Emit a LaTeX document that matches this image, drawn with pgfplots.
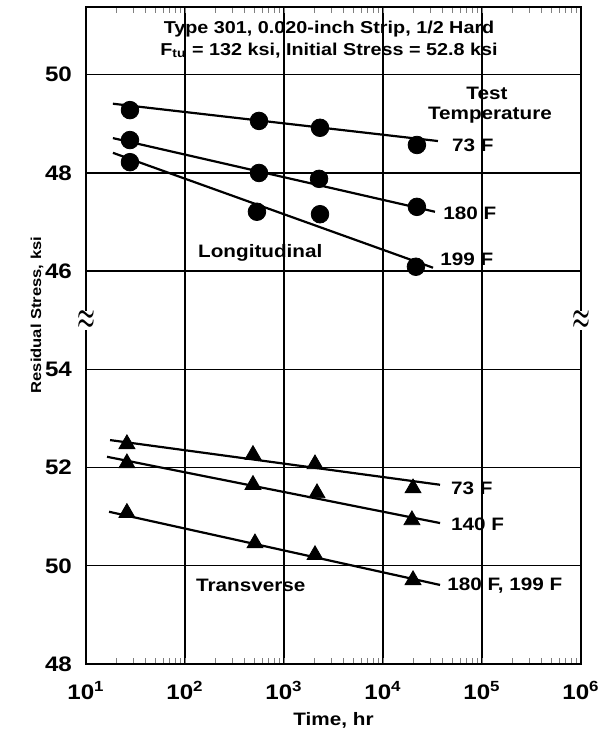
\documentclass[border=0pt]{standalone}
\usepackage{fontspec}
\setmainfont{Liberation Sans}[FakeStretch=1.15]
\usepackage{pgfplots}
\pgfplotsset{compat=1.18}

% upper panel (46-50 ksi) is shifted up by 10 units onto the same axis
\pgfplotsset{
  upper/.style={y filter/.expression={y+10}},
  fitline/.style={black, line width=1.1pt, no markers},
  circ/.style={only marks, mark=*, mark size=4.4pt, black},
  tri/.style={only marks, mark=triangle*, mark size=4.6pt, black},
}
\tikzset{
  lbl/.style={font=\fontsize{9}{10}\selectfont\bfseries, inner sep=0pt},
  brk/.style={font={\fontsize{10}{10}\selectfont\boldmath}, inner sep=0pt, fill=white},
}

\begin{document}
\begin{tikzpicture}
\begin{axis}[
  scale only axis, width=247.5pt, height=328.5pt,
  xmode=log, xmin=10, xmax=1e6,
  ymin=48, ymax=61.38,
  xtick={10,100,1000,10000,100000,1000000},
  xticklabels={10\textsuperscript{1},10\textsuperscript{2},10\textsuperscript{3},
               10\textsuperscript{4},10\textsuperscript{5},10\textsuperscript{6}},
  ytick={48,50,52,54,56,58,60},
  yticklabels={48,50,52,54,46,48,50},
  minor xtick={},
  grid=major,
  major grid style={black, line width=0.7pt},
  axis line style={line width=1.3pt},
  major tick length=0pt,
  tick label style={font=\fontsize{10.5}{12}\selectfont\bfseries},
  yticklabel style={xshift=-3.5pt},
  xticklabel style={yshift=-5pt},
  xlabel={Time, hr},
  ylabel={Residual Stress, ksi},
  xlabel style={at={(axis description cs:0.5,0)}, anchor=center, yshift=-28pt,
                font=\fontsize{9}{10}\selectfont\bfseries},
  ylabel style={at={(axis description cs:-0.099,0.531)}, anchor=center,
                font=\fontsize{7.2}{8}\selectfont\bfseries},
  clip=false,
]

% ---- Longitudinal (upper panel)
\addplot[fitline, upper] coordinates {(18.7,49.41) (35900,48.65)};
\addplot[circ, upper] coordinates {(27.8,49.28) (559,49.06) (2310,48.92) (22000,48.57)};

\addplot[fitline, upper] coordinates {(18.7,48.71) (33500,47.21)};
\addplot[circ, upper] coordinates {(27.8,48.67) (559,48.00) (2260,47.88) (22000,47.31)};

\addplot[fitline, upper] coordinates {(18.7,48.41) (32000,46.07)};
\addplot[circ, upper] coordinates {(27.8,48.22) (533,47.21) (2310,47.16) (21500,46.09)};

% ---- Transverse (lower panel)
\addplot[fitline] coordinates {(17.5,52.56) (37700,51.65)};
\addplot[tri] coordinates {(25.9,52.48) (486,52.26) (2056,52.07) (20100,51.58)};

\addplot[fitline] coordinates {(16.3,52.22) (37700,50.87)};
\addplot[tri] coordinates {(25.9,52.09) (486,51.65) (2154,51.48) (19600,50.93)};

\addplot[fitline] coordinates {(17.1,51.10) (37700,49.61)};
\addplot[tri] coordinates {(25.9,51.08) (509,50.46) (2056,50.22) (20100,49.71)};

% title block
\node[font=\fontsize{8.6}{11}\selectfont\bfseries, align=center, inner sep=0pt]
  at (rel axis cs:0.491,0.9505)
  {Type 301, 0.020-inch Strip, 1/2 Hard\\
   F\textsubscript{tu} = 132 ksi, Initial Stress = 52.8 ksi};

% labels
\node[lbl] at (rel axis cs:0.810,0.869) {Test};
\node[lbl] at (rel axis cs:0.816,0.836) {Temperature};
\node[lbl, anchor=west] at (rel axis cs:0.739,0.790) {73 F};
\node[lbl, anchor=west] at (rel axis cs:0.721,0.686) {180 F};
\node[lbl, anchor=west] at (rel axis cs:0.715,0.616) {199 F};
\node[lbl] at (rel axis cs:0.352,0.626) {Longitudinal};
\node[lbl, anchor=west] at (rel axis cs:0.737,0.268) {73 F};
\node[lbl, anchor=west] at (rel axis cs:0.737,0.212) {140 F};
\node[lbl, anchor=west] at (rel axis cs:0.729,0.120) {180 F, 199 F};
\node[lbl] at (rel axis cs:0.333,0.120) {Transverse};

% axis break marks
\node[brk] at (rel axis cs:0,0.523) {\scalebox{1}[1.7]{$\approx$}};
\node[brk] at (rel axis cs:1,0.523) {\scalebox{1}[1.7]{$\approx$}};
\end{axis}
\pgfresetboundingbox
\path ([shift={(-43pt,-33.5pt)}]current axis.south west)
  rectangle ([shift={(13pt,3.5pt)}]current axis.north east);
\end{tikzpicture}
\end{document}
